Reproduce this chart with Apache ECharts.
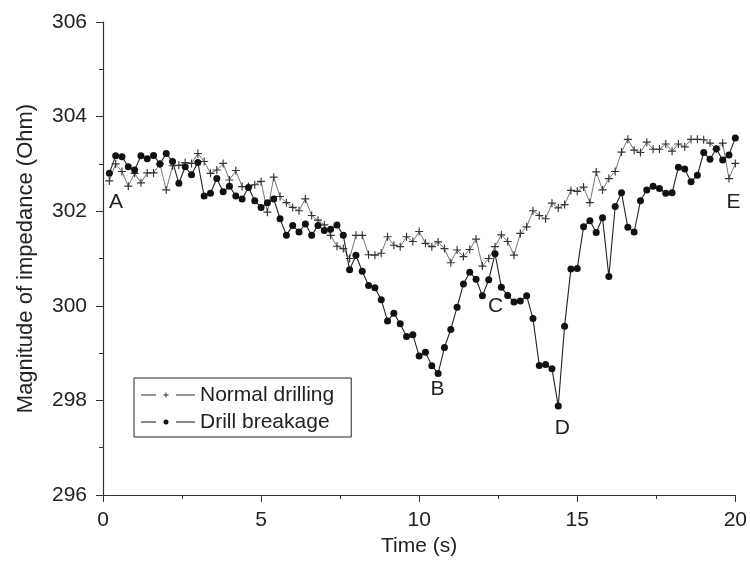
<!DOCTYPE html>
<html>
<head>
<meta charset="utf-8">
<script src="https://cdn.jsdelivr.net/npm/echarts@6/dist/echarts.min.js"></script>
<style>html,body{margin:0;padding:0;background:#fff}#c{width:750px;height:565px}</style>
</head>
<body>
<div id="c"></div>
<script>
var times = [0.2,0.4,0.6,0.8,1.0,1.2,1.4,1.6,1.8,2.0,2.2,2.4,2.6,2.8,3.0,3.2,3.4,3.6,3.8,4.0,
4.2,4.4,4.6,4.8,5.0,5.2,5.4,5.6,5.8,6.0,6.2,6.4,6.6,6.8,7.0,7.2,7.4,7.6,7.8,8.0,
8.2,8.4,8.6,8.8,9.0,9.2,9.4,9.6,9.8,10.0,10.2,10.4,10.6,10.8,11.0,11.2,11.4,11.6,11.8,12.0,
12.2,12.4,12.6,12.8,13.0,13.2,13.4,13.6,13.8,14.0,14.2,14.4,14.6,14.8,15.0,15.2,15.4,15.6,15.8,16.0,
16.2,16.4,16.6,16.8,17.0,17.2,17.4,17.6,17.8,18.0,18.2,18.4,18.6,18.8,19.0,19.2,19.4,19.6,19.8,20.0];

var normalDrilling = [302.64,303.00,302.84,302.53,302.80,302.60,302.81,302.81,303.00,302.45,
302.96,302.97,303.03,303.01,303.22,303.05,302.80,302.87,303.01,302.66,
302.86,302.52,302.52,302.56,302.63,301.98,302.72,302.31,302.18,302.08,
302.01,302.26,301.91,301.81,301.71,301.49,301.26,301.21,301.00,301.49,
301.49,301.08,301.07,301.11,301.46,301.28,301.25,301.46,301.36,301.57,
301.32,301.25,301.35,301.21,300.91,301.18,301.04,301.19,301.41,300.84,
301.00,301.25,301.50,301.36,301.07,301.53,301.67,302.01,301.91,301.84,
302.17,302.07,302.14,302.44,302.42,302.51,302.18,302.83,302.45,302.69,
302.84,303.25,303.52,303.29,303.24,303.46,303.31,303.31,303.42,303.27,
303.42,303.36,303.52,303.52,303.51,303.44,303.31,303.44,302.69,303.01];

var drillBreakage = [302.80,303.17,303.15,302.94,302.87,303.17,303.11,303.18,303.00,303.22,
303.05,302.59,302.94,302.77,303.03,302.32,302.38,302.69,302.41,302.53,
302.32,302.26,302.50,302.22,302.08,302.18,302.26,301.84,301.49,301.70,
301.56,301.73,301.49,301.70,301.59,301.62,301.71,301.49,300.76,301.07,
300.73,300.43,300.38,300.13,299.68,299.84,299.62,299.35,299.39,298.94,
299.02,298.73,298.57,299.12,299.50,299.97,300.46,300.71,300.56,300.21,
300.55,301.10,300.39,300.22,300.08,300.10,300.21,299.73,298.74,298.76,
298.67,297.88,299.57,300.78,300.79,301.67,301.80,301.55,301.86,300.62,
302.10,302.39,301.66,301.56,302.22,302.45,302.53,302.48,302.38,302.39,
302.93,302.89,302.62,302.76,303.24,303.10,303.32,303.08,303.19,303.55];

var labelNames = ['A','B','C','D','E'];
var labelTimes = [0.41,10.58,12.42,14.53,19.94];
var labelValues = [302.19,298.23,299.99,297.42,302.20];

var xTicks = [0,5,10,15,20];
var yTicks = [296,298,300,302,304,306];

function pairs(xs, ys){ return xs.map(function(x,i){ return [x, ys[i]]; }); }

var FONT = 'Liberation Sans';
var plus = 'path://M3,0H4V3H7V4H4V7H3V4H0V3H3Z';
var legendPlus = 'path://M0,2H15V3H0Z M35,2H54V3H35Z M24.5,0H25.5V2H27.5V3H25.5V5H24.5V3H22.5V2H24.5Z';
var legendDot = 'path://M0,2H15V3H0Z M35,2H54V3H35Z M22.5,2.5A2.5,2.5,0,1,0,27.5,2.5A2.5,2.5,0,1,0,22.5,2.5Z';

var chart = echarts.init(document.getElementById('c'), null, {renderer:'canvas'});
chart.setOption({
  animation: false,
  backgroundColor: '#fff',
  textStyle: {fontFamily: FONT},
  grid: {left: 103, right: 14, top: 22, bottom: 70, containLabel: false},
  legend: {
    orient: 'vertical', left: 134, top: 378,
    data: [{name: 'Normal drilling', icon: legendPlus}, {name: 'Drill breakage', icon: legendDot}],
    borderColor: '#222', borderWidth: 1, borderRadius: 0,
    padding: [6, 17, 4, 7],
    itemWidth: 54, itemHeight: 5, itemGap: 5,
    textStyle: {fontFamily: FONT, fontSize: 21, color: '#222', lineHeight: 22}
  },
  xAxis: {
    type: 'value', min: xTicks[0], max: xTicks[xTicks.length-1], interval: 5,
    name: 'Time (s)', nameLocation: 'middle', nameGap: 41,
    nameTextStyle: {fontFamily: FONT, fontSize: 21, color: '#222'},
    axisLine: {show: true, lineStyle: {color: '#333', width: 1.2}},
    axisTick: {show: true, inside: false, length: 7, lineStyle: {color: '#333'}},
    minorTick: {show: true, splitNumber: 2, length: 4, lineStyle: {color: '#333'}},
    axisLabel: {fontFamily: FONT, fontSize: 21, color: '#222', margin: 15},
    splitLine: {show: false}
  },
  yAxis: {
    type: 'value', min: yTicks[0], max: yTicks[yTicks.length-1], interval: 2,
    name: 'Magnitude of impedance (Ohm)', nameLocation: 'middle', nameGap: 66,
    nameTextStyle: {fontFamily: FONT, fontSize: 22, color: '#222'},
    axisLine: {show: true, lineStyle: {color: '#333', width: 1.2}},
    axisTick: {show: true, inside: false, length: 7, lineStyle: {color: '#333'}},
    minorTick: {show: true, splitNumber: 2, length: 4, lineStyle: {color: '#333'}},
    axisLabel: {fontFamily: FONT, fontSize: 21, color: '#222', margin: 16},
    splitLine: {show: false}
  },
  series: [
    {
      name: 'Normal drilling', type: 'line', data: pairs(times, normalDrilling),
      symbol: plus, symbolSize: 8, showAllSymbol: true, showSymbol: true,
      lineStyle: {color: '#666', width: 0.9},
      itemStyle: {color: '#333'}
    },
    {
      name: 'Drill breakage', type: 'line', data: pairs(times, drillBreakage),
      symbol: 'circle', symbolSize: 7, showAllSymbol: true, showSymbol: true,
      lineStyle: {color: '#222', width: 1.1},
      itemStyle: {color: '#111'}
    },
    {
      name: 'labels', type: 'scatter', symbolSize: 1,
      data: labelNames.map(function(n,i){ return {value:[labelTimes[i], labelValues[i]], name:n}; }),
      label: {show: true, position: 'inside', formatter: '{b}', fontFamily: FONT, fontSize: 21,
              color: '#222', textBorderWidth: 0, opacity: 1},
      itemStyle: {color: 'rgba(0,0,0,0)'},
      silent: true
    }
  ]
});
</script>
</body>
</html>
